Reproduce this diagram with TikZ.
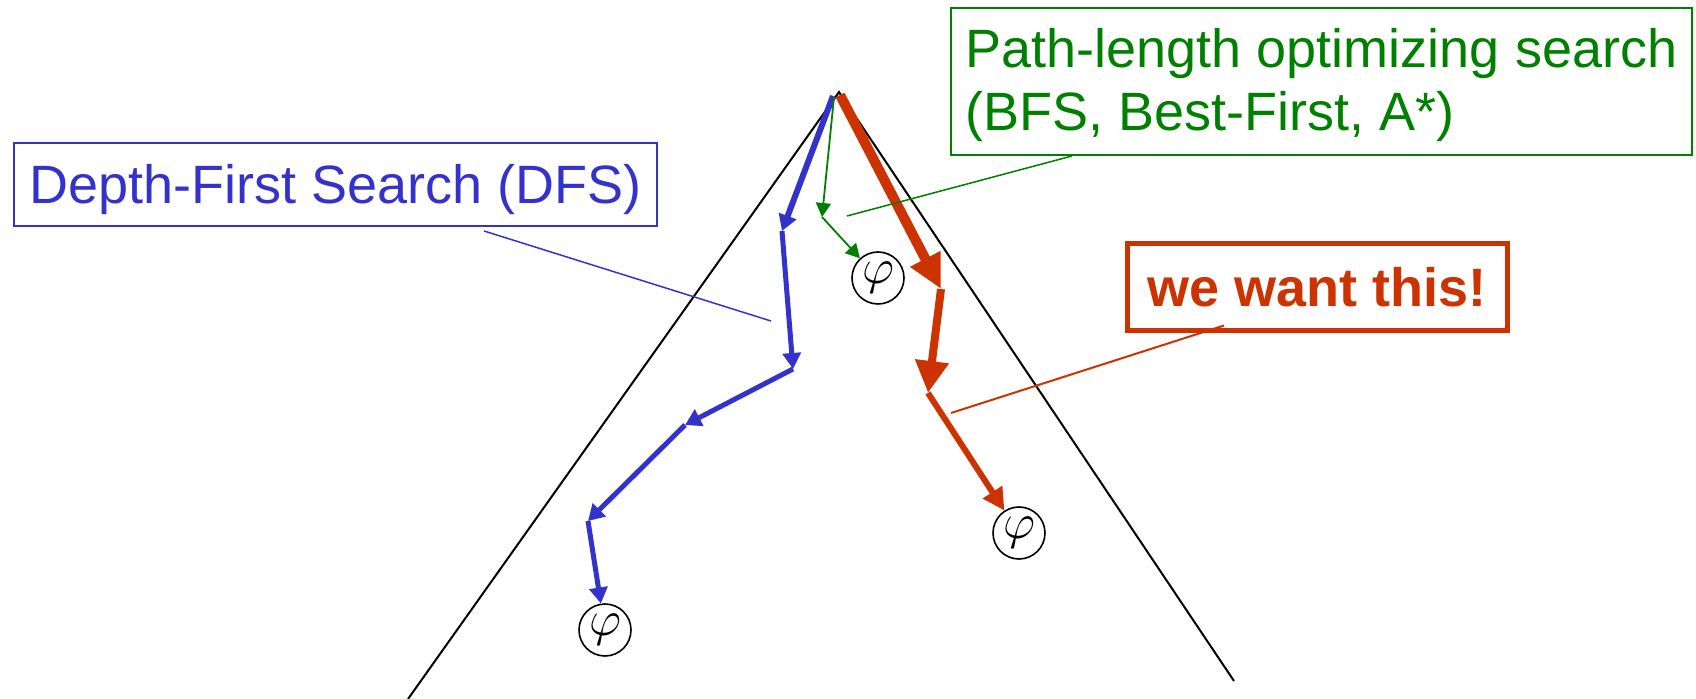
\documentclass[tikz,border=0pt]{standalone}
\usepackage{fontspec}
\setmainfont{Liberation Sans}
\usetikzlibrary{arrows.meta}
\definecolor{dfsblue}{RGB}{51,51,204}
\definecolor{optgreen}{RGB}{0,128,0}
\definecolor{wantred}{RGB}{204,51,0}

\begin{document}
\begin{tikzpicture}[x=0.5pt, y=-0.5pt,
    labelbox/.style={draw, line width=1pt, inner sep=0pt, text height=19.4pt, text depth=0pt,
      font=\fontsize{27}{31.5}\selectfont},
    goal/.style={circle, draw, line width=0.8pt, minimum size=26pt, inner sep=0pt,
      font=\fontsize{26}{26}\selectfont},
    dfsarrow/.style={dfsblue, line width=2.5pt, -{Triangle[length=8pt,width=9pt]}},
    optarrow/.style={optgreen, line width=0.9pt, -{Triangle[length=7pt,width=7.5pt]}}]
  \useasboundingbox (0,0) rectangle (1696,699);

  % search space
  \coordinate (root) at (839,92);
  \draw[line width=1pt] (408,699) -- (root) -- (1234,681);

  % goal states
  \node[goal] (phiA) at (605,630) {$\varphi$};
  \node[goal] (phiB) at (878,278) {$\varphi$};
  \node[goal] (phiC) at (1019,533) {$\varphi$};

  % DFS goes deep first
  \coordinate (b0) at (833,96);
  \coordinate (b1) at (782,231);
  \coordinate (b2) at (793,369);
  \coordinate (b3) at (685,425);
  \coordinate (b4) at (588,521);
  \draw[dfsarrow, line width=3pt] (b0) -- (b1);
  \foreach \a/\b in {b1/b2, b2/b3, b3/b4}
    \draw[dfsarrow] (\a) -- (\b);
  \draw[dfsarrow] (b4) -- (phiA);

  % shortest path search
  \coordinate (g0) at (834,97);
  \coordinate (g1) at (822,217);
  \draw[optarrow] (g0) -- (g1);
  \draw[optarrow] (g1) -- (phiB);

  % the one we want
  \coordinate (r0) at (840,95);
  \coordinate (r1) at (941,289);
  \coordinate (r2) at (928,393);
  \draw[wantred, line width=5pt, -{Triangle[length=17pt,width=16pt]}] (r0) -- (r1);
  \draw[wantred, line width=4pt, -{Triangle[length=16pt,width=16pt]}] (r1) -- (r2);
  \draw[wantred, line width=3pt, -{Triangle[length=11pt,width=11pt]}] (r2) -- (phiC);

  % labels
  \node[labelbox, dfsblue, minimum width=321.5pt, minimum height=41.5pt] (dfs) at (335.5,184.5)
    {Depth-First Search (DFS)};
  \node[labelbox, optgreen, align=left, text height=52pt, text depth=2.5pt,
    minimum width=370.5pt, minimum height=73.5pt] (opt) at (1321.5,81.5)
    {Path-length optimizing search\\(BFS, Best-First, A*)};
  \node[labelbox, wantred, line width=2.5pt, font=\fontsize{27}{31.5}\selectfont\bfseries,
    minimum width=190pt, minimum height=43.5pt] (want) at (1317,287.5) {we want this!};

  \coordinate (dfsnote) at (771,321);
  \coordinate (optnote) at (847,216);
  \coordinate (wantnote) at (951,413);
  \draw[dfsblue, line width=0.75pt] ([xshift=74.25pt,yshift=-2pt]dfs.south) -- (dfsnote);
  \draw[optgreen, line width=0.75pt] ([xshift=-124.75pt]opt.south) -- (optnote);
  \draw[wantred, line width=1pt] ([xshift=-46.5pt,yshift=4pt]want.south) -- (wantnote);
\end{tikzpicture}
\end{document}
